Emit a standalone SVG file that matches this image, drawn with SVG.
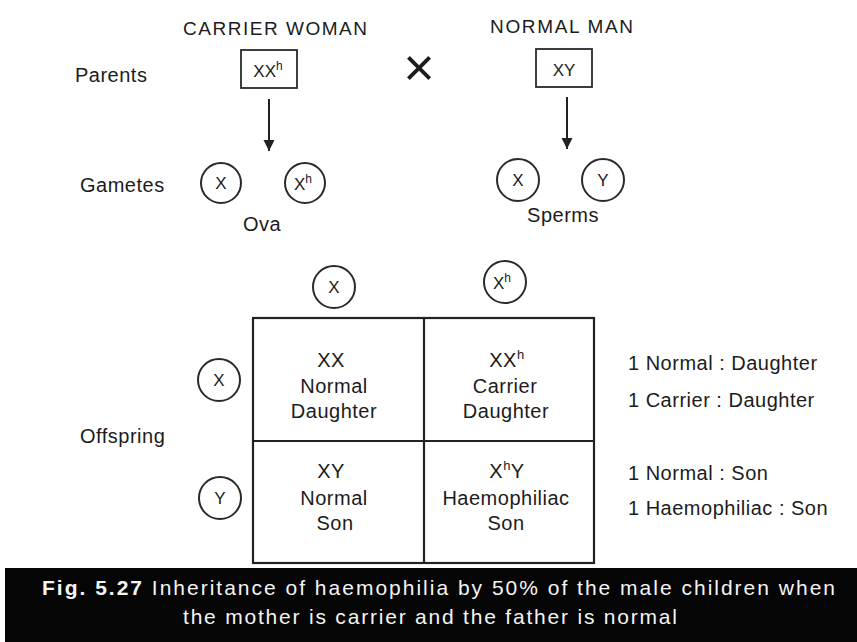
<svg xmlns="http://www.w3.org/2000/svg" width="857" height="642" viewBox="0 0 857 642">
<defs>
<style>
text{font-family:"Liberation Sans",Arial,sans-serif;fill:#1c1c1c}
.lbl{font-size:20px;letter-spacing:0.5px}
.hdr{font-size:19px}
.cell{font-size:20px;letter-spacing:0.5px;text-anchor:middle}
.sym{font-size:17px;text-anchor:middle}
.box{fill:none;stroke:#2a2a2a;stroke-width:1.8}
.circ{fill:none;stroke:#2a2a2a;stroke-width:2}
.grid{fill:none;stroke:#222;stroke-width:2.2}
.conn{stroke:#222;stroke-width:2;fill:none}
.cap{font-size:21px;fill:#f4f4f4}
</style>
<marker id="ah" viewBox="0 0 10 10" refX="10" refY="5" markerWidth="5.5" markerHeight="6" orient="auto" markerUnits="strokeWidth">
<path d="M0,0 L10,5 L0,10 z" fill="#222"/>
</marker>
</defs>
<rect width="857" height="642" fill="#ffffff"/>

<g id="labels">
<text class="lbl" x="75" y="82">Parents</text>
<text class="lbl" x="80" y="192">Gametes</text>
<text class="lbl" x="80" y="443">Offspring</text>
</g>

<g id="mother">
<text class="hdr" x="183" y="35" textLength="184" lengthAdjust="spacing">CARRIER WOMAN</text>
<rect class="box" x="241" y="50" width="56" height="38"/>
<text class="sym" x="268" y="77">XX<tspan font-size="12" dy="-7">h</tspan></text>
</g>

<g id="cross">
<text x="419" y="86" font-size="54" text-anchor="middle">×</text>
</g>

<g id="father">
<text class="hdr" x="490" y="33" textLength="143" lengthAdjust="spacing">NORMAL MAN</text>
<rect class="box" x="536" y="49" width="56" height="38"/>
<text class="sym" x="564" y="76">XY</text>
</g>

<g id="connectors">
<line class="conn" x1="269" y1="99" x2="269" y2="151" marker-end="url(#ah)"/>
<line class="conn" x1="567" y1="97" x2="567" y2="149" marker-end="url(#ah)"/>
</g>

<g id="ova">
<circle class="circ" cx="221" cy="183" r="20"/>
<text class="sym" x="221" y="189">X</text>
<circle class="circ" cx="305" cy="183" r="20"/>
<text class="sym" x="303" y="190">X<tspan font-size="12" dy="-7">h</tspan></text>
<text class="lbl" x="262" y="231" text-anchor="middle">Ova</text>
</g>

<g id="sperms">
<circle class="circ" cx="518" cy="180" r="21"/>
<text class="sym" x="518" y="186">X</text>
<circle class="circ" cx="603" cy="180" r="21"/>
<text class="sym" x="603" y="186">Y</text>
<text class="lbl" x="563" y="222" text-anchor="middle">Sperms</text>
</g>

<g id="top-gametes">
<circle class="circ" cx="334" cy="287" r="21"/>
<text class="sym" x="334" y="293">X</text>
<circle class="circ" cx="505" cy="282" r="21"/>
<text class="sym" x="502" y="289">X<tspan font-size="12" dy="-7">h</tspan></text>
</g>

<g id="side-gametes">
<circle class="circ" cx="219" cy="380" r="21"/>
<text class="sym" x="219" y="386">X</text>
<circle class="circ" cx="220" cy="498" r="21"/>
<text class="sym" x="220" y="504">Y</text>
</g>

<g id="punnett-grid">
<rect class="grid" x="253" y="318" width="341" height="245"/>
<line class="grid" x1="424" y1="318" x2="424" y2="563"/>
<line class="grid" x1="253" y1="441" x2="594" y2="441"/>
</g>

<g id="cell-xx">
<text class="cell" x="331" y="367">XX</text>
<text class="cell" x="334" y="393">Normal</text>
<text class="cell" x="334" y="418">Daughter</text>
</g>
<g id="cell-xxh">
<text class="cell" x="507" y="367">XX<tspan font-size="13" dy="-8">h</tspan></text>
<text class="cell" x="505" y="393">Carrier</text>
<text class="cell" x="506" y="418">Daughter</text>
</g>
<g id="cell-xy">
<text class="cell" x="331" y="478">XY</text>
<text class="cell" x="334" y="505">Normal</text>
<text class="cell" x="335" y="530">Son</text>
</g>
<g id="cell-xhy">
<text class="cell" x="507" y="478">X<tspan font-size="13" dy="-8">h</tspan><tspan dy="8">Y</tspan></text>
<text class="cell" x="506" y="505">Haemophiliac</text>
<text class="cell" x="506" y="530">Son</text>
</g>

<g id="ratios">
<text class="lbl" x="628" y="370">1 Normal : Daughter</text>
<text class="lbl" x="628" y="407">1 Carrier : Daughter</text>
<text class="lbl" x="628" y="480">1 Normal : Son</text>
<text class="lbl" x="628" y="515">1 Haemophiliac : Son</text>
</g>

<g id="caption">
<rect x="5" y="568" width="852" height="74" fill="#050505"/>
<text class="cap" x="42" y="595" textLength="793" lengthAdjust="spacing"><tspan font-weight="bold" fill="#f4f4f4">Fig. 5.27</tspan> Inheritance of haemophilia by 50% of the male children when</text>
<text class="cap" x="183" y="624" textLength="494" lengthAdjust="spacing">the mother is carrier and the father is normal</text>
</g>
</svg>
